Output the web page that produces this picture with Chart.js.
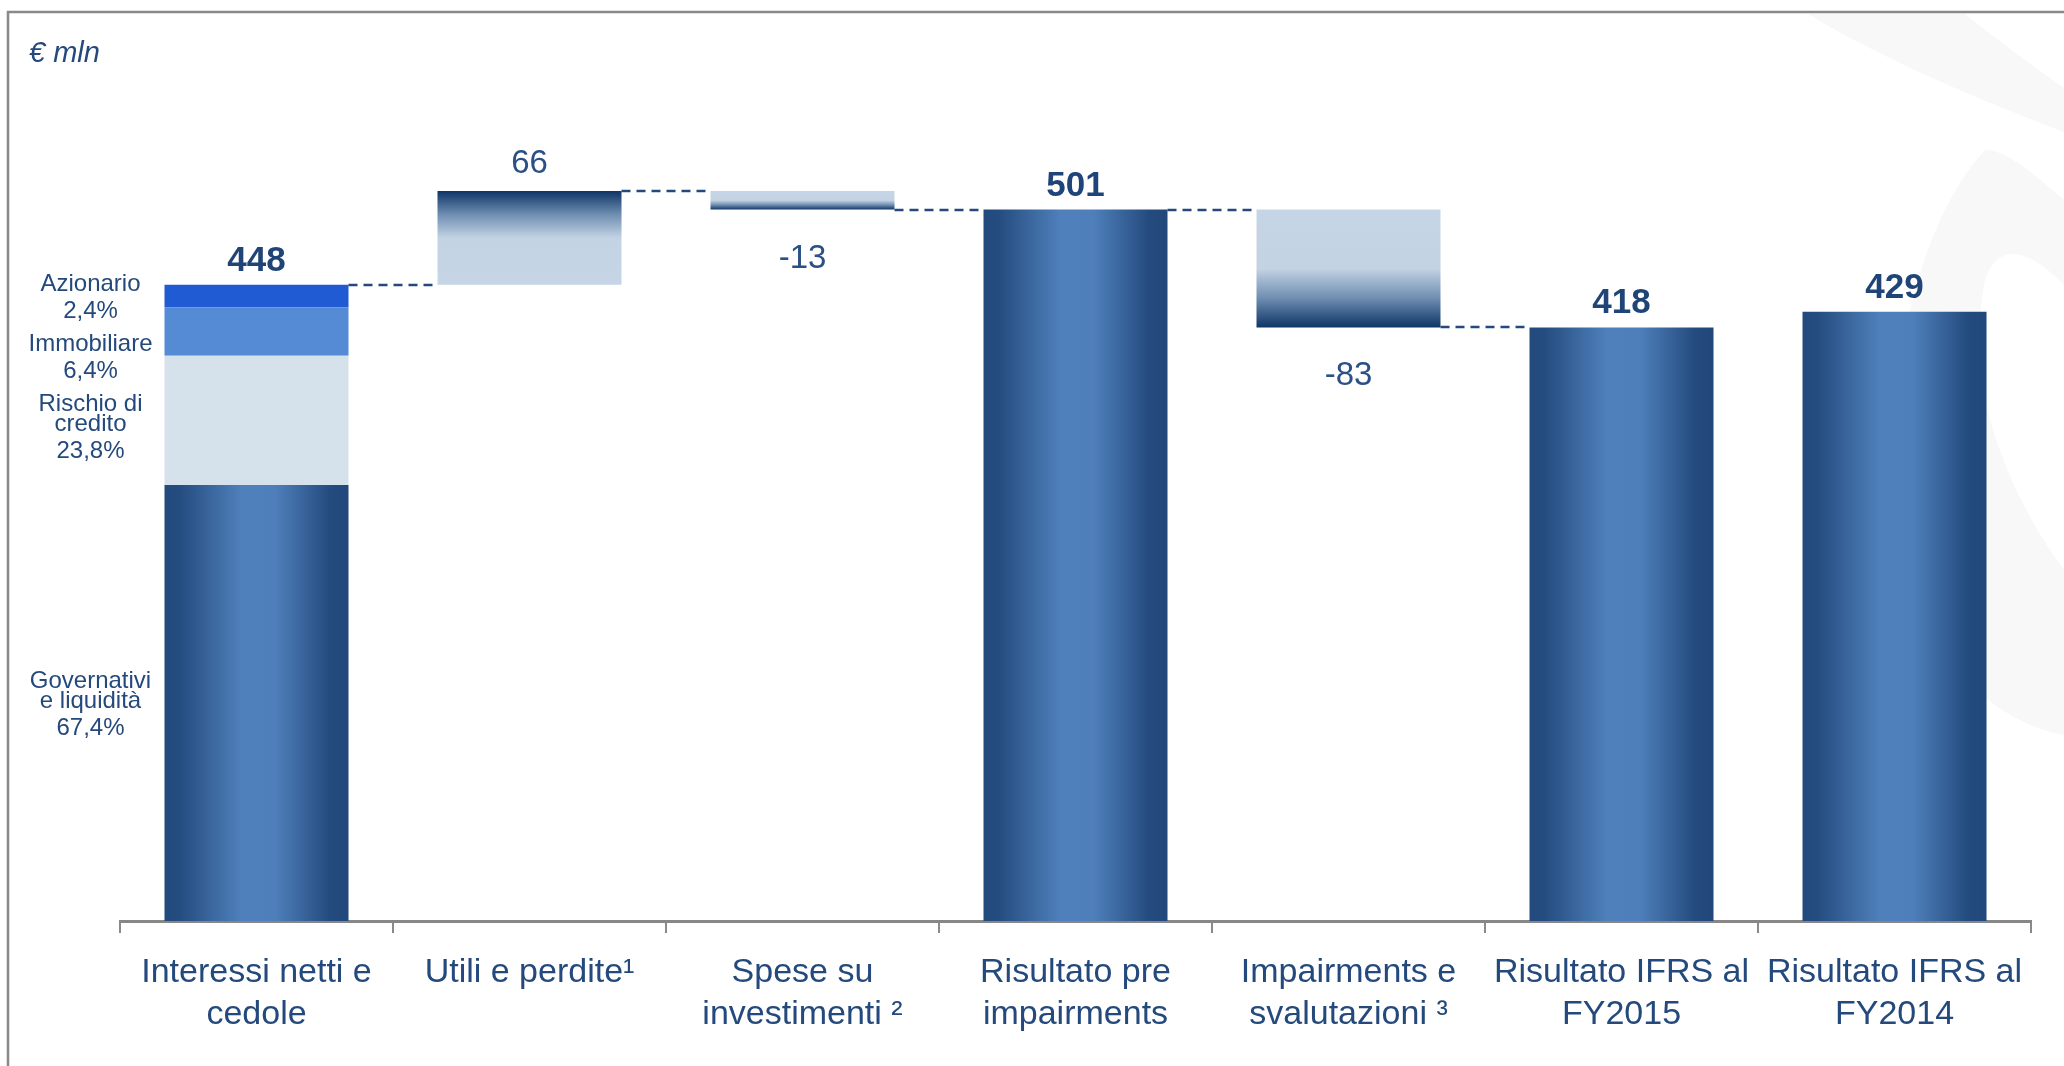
<!DOCTYPE html>
<html>
<head>
<meta charset="utf-8">
<script src="https://cdn.jsdelivr.net/npm/chart.js@4.4.1/dist/chart.umd.min.js"></script>
<style>
  html, body { margin: 0; padding: 0; background: #fff; }
  canvas { display: block; }
</style>
</head>
<body>
<canvas id="chart" width="2064" height="1066"></canvas>
<script>
const categories = [
  ['Interessi netti e', 'cedole'],
  'Utili e perdite¹',
  ['Spese su', 'investimenti ²'],
  ['Risultato pre', 'impairments'],
  ['Impairments e', 'svalutazioni ³'],
  ['Risultato IFRS al', 'FY2015'],
  ['Risultato IFRS al', 'FY2014'],
]
const values = [448, 66, -13, 501, -83, 418, 429]
const kinds = ['total', 'delta', 'delta', 'total', 'delta', 'total', 'total']

// composizione della prima barra (altezze)
const mixNames = [['Governativi', 'e liquidità'], ['Rischio di', 'credito'], ['Immobiliare'], ['Azionario']]
const mixShares = ['67,4%', '23,8%', '6,4%', '2,4%']
const mixValues = [307, 91, 34, 16]
const mixColors = [null, '#d5e1eb', '#548bd4', '#205bd3']

const FONT = "'Liberation Sans', Arial, sans-serif"
const TEXT = '#24497c'
const BAR_PCT = 0.674

// waterfall: barre piene per i totali, flottanti per le variazioni
let running = 0
const levels = []
const totalData = []
const deltaData = []
values.forEach((v, i) => {
  if (kinds[i] === 'total') {
    totalData.push([0, i === 0 ? mixValues[0] : v])
    deltaData.push(null)
    running = v
  } else {
    deltaData.push([running, running + v])
    totalData.push(null)
    running += v
  }
  levels.push(running)
})

let cum = 0
const mixRanges = mixValues.map(v => { const r = [cum, cum + v]; cum += v; return r })

function barSpan(chart, i) {
  const x = chart.scales.x
  const w = x.width / categories.length * BAR_PCT
  const c = x.getPixelForValue(i)
  return [c - w / 2, c + w / 2]
}

function totalFill(context) {
  const chart = context.chart
  if (!chart.chartArea) return '#3a67a0'
  const [l, r] = barSpan(chart, context.dataIndex)
  const g = chart.ctx.createLinearGradient(l, 0, r, 0)
  g.addColorStop(0, '#224a7d')
  g.addColorStop(0.08, '#244c7f')
  g.addColorStop(0.42, '#4f80bb')
  g.addColorStop(0.6, '#4e7fba')
  g.addColorStop(0.9, '#244b7e')
  g.addColorStop(1, '#22487b')
  return g
}

function deltaFill(context) {
  const chart = context.chart
  const raw = context.raw
  if (!chart.chartArea || !raw) return '#c5d5e5'
  const y = chart.scales.y
  const g = chart.ctx.createLinearGradient(0, y.getPixelForValue(raw[0]), 0, y.getPixelForValue(raw[1]))
  g.addColorStop(0, '#c6d5e5')
  g.addColorStop(0.5, '#c3d3e3')
  g.addColorStop(0.75, '#6f8eb2')
  g.addColorStop(1, '#0e3566')
  return g
}

const datasets = [
  { label: 'Totali', data: totalData, backgroundColor: totalFill },
  { label: 'Variazioni', data: deltaData, backgroundColor: deltaFill },
]
for (let k = 1; k < mixValues.length; k++) {
  datasets.push({
    label: mixNames[k].join(' '),
    data: values.map((_, i) => (i === 0 ? mixRanges[k] : null)),
    backgroundColor: mixColors[k],
  })
}

function faintShapes(ctx) {
  ctx.save()
  ctx.fillStyle = '#f8f8f8'
  ctx.beginPath()
  ctx.moveTo(1808, 14)
  ctx.lineTo(1965, 14)
  ctx.quadraticCurveTo(2010, 50, 2064, 88)
  ctx.lineTo(2064, 132)
  ctx.quadraticCurveTo(1900, 70, 1808, 14)
  ctx.fill()
  ctx.beginPath()
  ctx.moveTo(1985, 150)
  ctx.bezierCurveTo(1910, 230, 1875, 420, 1905, 560)
  ctx.bezierCurveTo(1935, 680, 2010, 725, 2064, 735)
  ctx.lineTo(2064, 570)
  ctx.bezierCurveTo(2000, 480, 1965, 380, 1985, 280)
  ctx.bezierCurveTo(1998, 240, 2030, 250, 2064, 285)
  ctx.lineTo(2064, 200)
  ctx.bezierCurveTo(2030, 170, 2005, 150, 1985, 150)
  ctx.fill()
  ctx.restore()
}

const annotate = {
  id: 'annotate',
  beforeDraw(chart) {
    const ctx = chart.ctx
    faintShapes(ctx)
    ctx.save()
    ctx.strokeStyle = '#898989'
    ctx.lineWidth = 2.5
    ctx.beginPath()
    ctx.moveTo(8, 1066)
    ctx.lineTo(8, 12)
    ctx.lineTo(2064, 12)
    ctx.stroke()
    ctx.fillStyle = TEXT
    ctx.font = 'italic 29px ' + FONT
    ctx.textAlign = 'left'
    ctx.textBaseline = 'alphabetic'
    ctx.fillText('€ mln', 29, 62)
    ctx.restore()
  },
  afterDatasetsDraw(chart) {
    const { ctx, scales: { x, y } } = chart
    ctx.save()

    // linee tratteggiate di raccordo
    ctx.strokeStyle = '#244a7c'
    ctx.lineWidth = 2.5
    ctx.setLineDash([9, 6])
    for (let i = 0; i < values.length - 1; i++) {
      const next = i + 1
      if (kinds[next] === 'total' && values[next] !== levels[i]) continue
      const yy = Math.round(y.getPixelForValue(levels[i]))
      const r = barSpan(chart, i)[1]
      const l = barSpan(chart, next)[0]
      ctx.beginPath()
      ctx.moveTo(r, yy)
      ctx.lineTo(l, yy)
      ctx.stroke()
    }
    ctx.setLineDash([])

    // etichette dei valori
    ctx.textAlign = 'center'
    ctx.textBaseline = 'alphabetic'
    values.forEach((v, i) => {
      const c = x.getPixelForValue(i)
      if (kinds[i] === 'total') {
        ctx.fillStyle = '#1f4478'
        ctx.font = 'bold 35px ' + FONT
        ctx.fillText(String(v), c, y.getPixelForValue(v) - 14)
      } else {
        ctx.fillStyle = '#2a5085'
        ctx.font = '33px ' + FONT
        const yy = y.getPixelForValue(levels[i])
        ctx.fillText(String(v), c, v >= 0 ? yy - 18 : yy + 58)
      }
    })

    // composizione a sinistra della prima barra
    ctx.fillStyle = TEXT
    ctx.font = '24px ' + FONT
    const lx = barSpan(chart, 0)[0] - 74
    let floor = -Infinity
    for (let k = mixValues.length - 1; k >= 0; k--) {
      const lines = [...mixNames[k], mixShares[k]]
      const offs = lines.map((_, j) => (j < lines.length - 1 ? j * 20 : (lines.length - 2) * 20 + 27))
      const blockH = offs[offs.length - 1] + 17
      const mid = (y.getPixelForValue(mixRanges[k][0]) + y.getPixelForValue(mixRanges[k][1])) / 2
      const top = Math.max(mid - blockH / 2, floor)
      lines.forEach((t, j) => ctx.fillText(t, lx, top + 17 + offs[j]))
      floor = top + blockH + 16
    }
    ctx.restore()
  },
}

new Chart(document.getElementById('chart'), {
  type: 'bar',
  data: { labels: categories, datasets: datasets },
  options: {
    responsive: false,
    animation: false,
    events: [],
    categoryPercentage: 1,
    barPercentage: BAR_PCT,
    layout: { padding: { left: 120, right: 33, top: 140, bottom: 0 } },
    plugins: { legend: { display: false }, tooltip: { enabled: false } },
    scales: {
      x: {
        stacked: true,
        grid: { offset: true, drawOnChartArea: false, tickLength: 12, color: '#8a8a8a', lineWidth: 2 },
        border: { display: true, color: '#878787', width: 3 },
        ticks: { color: TEXT, font: { family: FONT, size: 34, lineHeight: 1.25 }, padding: 18, maxRotation: 0, autoSkip: false },
        afterFit: (scale) => { scale.height = 145 },
      },
      y: { display: false, stacked: false, min: 0, max: 550 },
    },
  },
  plugins: [annotate],
})
</script>
</body>
</html>
